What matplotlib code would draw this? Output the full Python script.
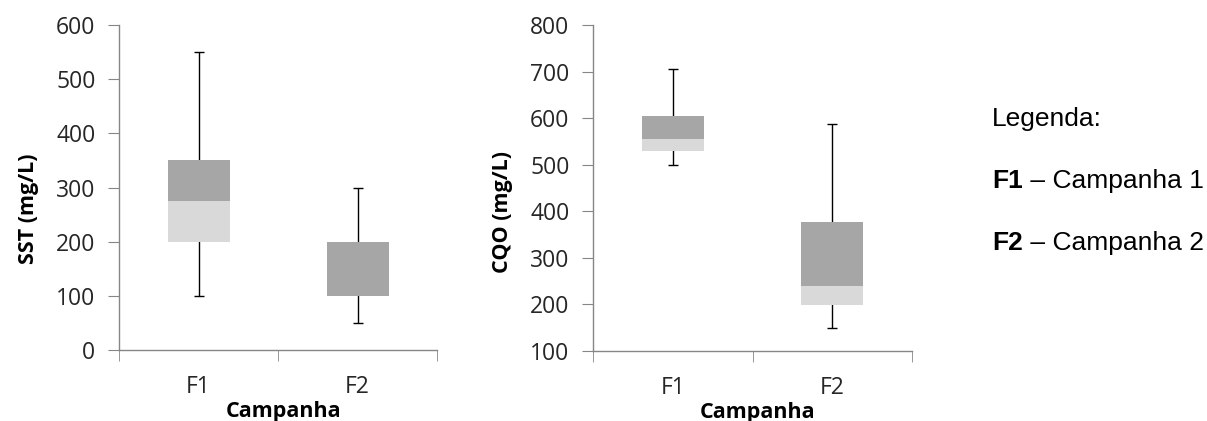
import matplotlib
matplotlib.use("Agg")
import matplotlib.pyplot as plt
import numpy as np

categories = ["F1", "F2"]

sst_min = [100, 50]
sst_q1 = [200, 100]
sst_med = [275, 100]
sst_q3 = [350, 200]
sst_max = [550, 300]

cqo_min = [500, 150]
cqo_q1 = [530, 198]
cqo_med = [555, 240]
cqo_q3 = [604, 377]
cqo_max = [705, 587]

legend_title = "Legenda:"
legend_items = [("F1", "Campanha 1"), ("F2", "Campanha 2")]

DARK = "#A6A6A6"
LIGHT = "#D9D9D9"
AXC = "#868686"
FONT = "Open Sans"
LFONT = "Liberation Sans"

fig = plt.figure(figsize=(12.07, 4.21), dpi=100)


def boxplot(ax, mn, q1, med, q3, mx, ylim, yticks, ylabel, ylab_y):
    x = np.arange(1, len(categories) + 1)
    mn, q1, med, q3, mx = map(np.array, (mn, q1, med, q3, mx))
    ax.errorbar(x, med, yerr=[med - mn, mx - med], fmt="none", ecolor="black",
                elinewidth=1.0, capsize=3.6, capthick=1.0, zorder=1)
    ax.bar(x, med - q1, bottom=q1, width=0.39, color=LIGHT, zorder=2)
    ax.bar(x, q3 - med, bottom=med, width=0.39, color=DARK, zorder=2)
    ax.set_xlim(0.5, len(categories) + 0.5)
    ax.set_ylim(*ylim)
    ax.set_yticks(yticks)
    ax.set_xticks(x)
    ax.set_xticklabels(categories)
    ax.set_xticks(np.arange(0.5, len(categories) + 1, 1.0), minor=True)
    ax.tick_params(axis="x", which="major", length=0, pad=18)
    ax.tick_params(axis="x", which="minor", length=8, color=AXC, direction="out")
    ax.tick_params(axis="y", length=8, color=AXC, direction="out", pad=9)
    for t in ax.get_xticklabels() + ax.get_yticklabels():
        t.set_fontfamily(FONT)
        t.set_fontsize(16.5)
        t.set_color("#262626")
    for s in ("top", "right"):
        ax.spines[s].set_visible(False)
    for s in ("left", "bottom"):
        ax.spines[s].set_color(AXC)
        ax.spines[s].set_linewidth(1.0)
    ax.set_ylabel(ylabel, fontfamily=FONT, fontweight="bold", fontsize=15.5)
    ax.set_xlabel("Campanha", fontfamily=FONT, fontweight="bold", fontsize=15.5)
    ax.yaxis.set_label_coords(-0.25, ylab_y)
    ax.xaxis.set_label_coords(0.516, -0.156)


ax1 = fig.add_axes([0.0986, 0.1686, 0.2635, 0.772])
boxplot(ax1, sst_min, sst_q1, sst_med, sst_q3, sst_max, (0, 600),
        np.arange(0, 601, 100), "SST (mg/L)", 0.434)

ax2 = fig.add_axes([0.4913, 0.1663, 0.2643, 0.774])
boxplot(ax2, cqo_min, cqo_q1, cqo_med, cqo_q3, cqo_max, (100, 800),
        np.arange(100, 801, 100), "CQO (mg/L)", 0.426)

renderer = fig.canvas.get_renderer()
lx = 992 / 1207
LSIZE = 19
fig.text(lx, 1 - 119 / 421, legend_title, fontfamily=LFONT,
         fontsize=LSIZE, va="center", ha="left")
ys = [181, 243]
for (code, name), yy in zip(legend_items, ys):
    t = fig.text(lx, 1 - yy / 421, code, fontfamily=LFONT,
                 fontsize=LSIZE, fontweight="bold", va="center", ha="left")
    bb = t.get_window_extent(renderer=renderer)
    fig.text(bb.x1 / fig.bbox.width, 1 - yy / 421, " \u2013 " + name, fontfamily=LFONT,
             fontsize=LSIZE, va="center", ha="left")

fig.savefig("out.png", dpi=100)
